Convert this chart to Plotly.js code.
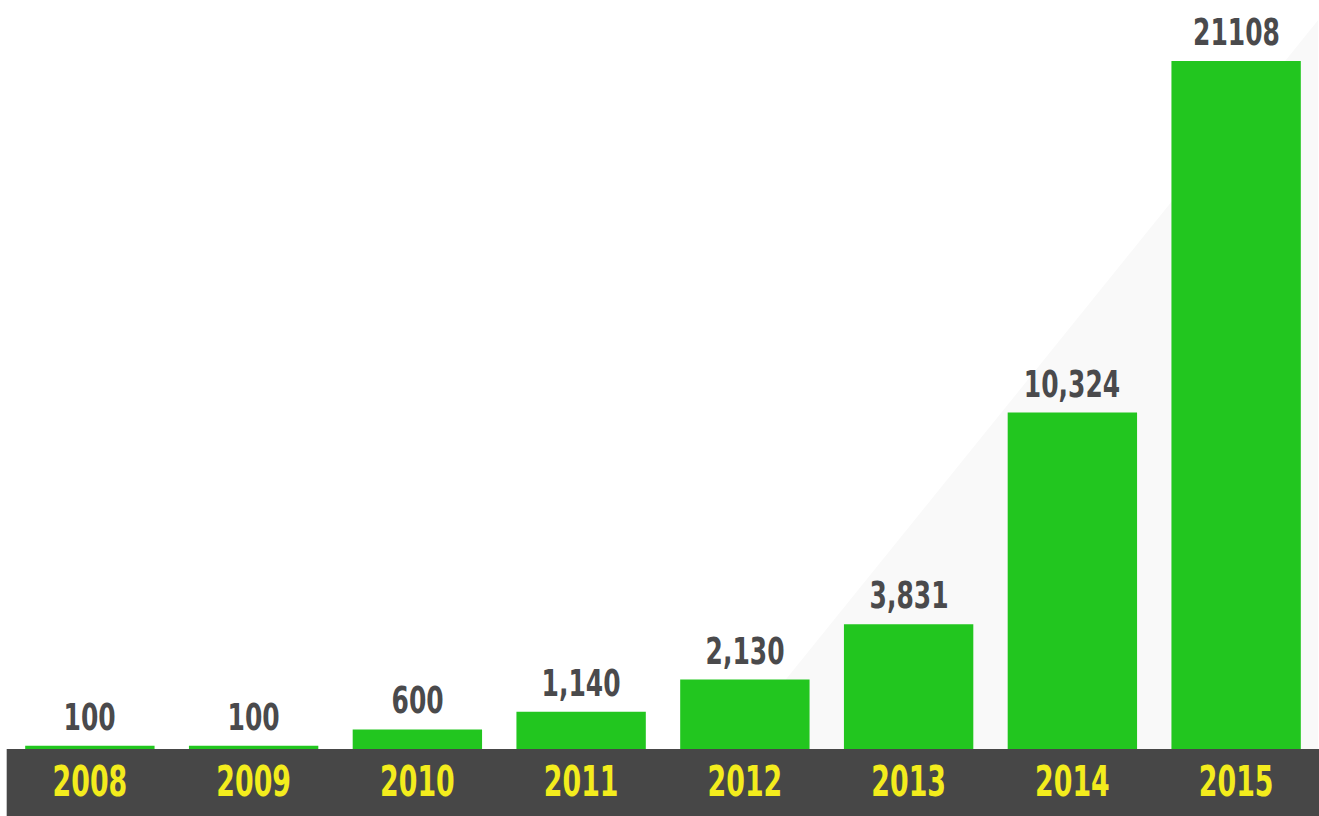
<!DOCTYPE html>
<html>
<head>
<meta charset="utf-8">
<script src="https://cdn.plot.ly/plotly-3.0.1.min.js"></script>
<style>
html,body{margin:0;padding:0;background:#ffffff;}
#chart{width:1319px;height:816px;}
#chart g.xtick{transform-box:fill-box;transform-origin:center;transform:scaleX(0.71);}
#chart g.annotation{transform-box:fill-box;transform-origin:center;transform:scaleX(0.73);}
</style>
</head>
<body>
<div id="chart"></div>
<script>
var years = ['2008','2009','2010','2011','2012','2013','2014','2015'];
var values = [100, 100, 600, 1140, 2130, 3831, 10324, 21108];
var valueLabels = ['100','100','600','1,140','2,130','3,831','10,324','21108'];

var FONT = 'DejaVu Sans Condensed, Liberation Sans Narrow, Arial Narrow, sans-serif';

var trace = {
  type: 'bar',
  x: years,
  y: values,
  marker: {color: '#22c61f', line: {width: 0}},
  hoverinfo: 'skip'
};

var annotations = years.map(function(yr, i){
  return {
    x: i, y: values[i], xref: 'x', yref: 'y',
    text: valueLabels[i], showarrow: false,
    yanchor: 'bottom', yshift: 5,
    font: {family: FONT, size: 38, color: '#4a4a4c', weight: 'bold'}
  };
});

var layout = {
  width: 1319, height: 816,
  margin: {l: 8, r: 1, t: 0, b: 67, pad: 0},
  paper_bgcolor: '#ffffff',
  plot_bgcolor: 'rgba(0,0,0,0)',
  bargap: 0.21,
  showlegend: false,
  xaxis: {
    type: 'category',
    range: [-0.5, 7.5], autorange: false,
    showgrid: false, zeroline: false, showline: false,
    ticks: '', ticklen: 0, ticklabelstandoff: 4,
    tickfont: {family: FONT, size: 42, color: '#f3ec1d', weight: 'bold'},
    fixedrange: true
  },
  yaxis: {
    range: [0, 22980], autorange: false,
    visible: false, showgrid: false, zeroline: false,
    fixedrange: true
  },
  shapes: [
    {type: 'path', xref: 'paper', yref: 'paper', layer: 'below',
     path: 'M 0.551 0 L 1.0 0 L 1.0 0.973 Z',
     fillcolor: '#f9f9f9', line: {width: 0}},
    {type: 'rect', xref: 'paper', yref: 'paper', layer: 'below',
     x0: -0.001, x1: 1.001, y0: -67/749, y1: 0,
     fillcolor: '#474747', line: {width: 0}}
  ],
  annotations: annotations
};

Plotly.newPlot('chart', [trace], layout, {displayModeBar: false, staticPlot: true});
</script>
</body>
</html>
